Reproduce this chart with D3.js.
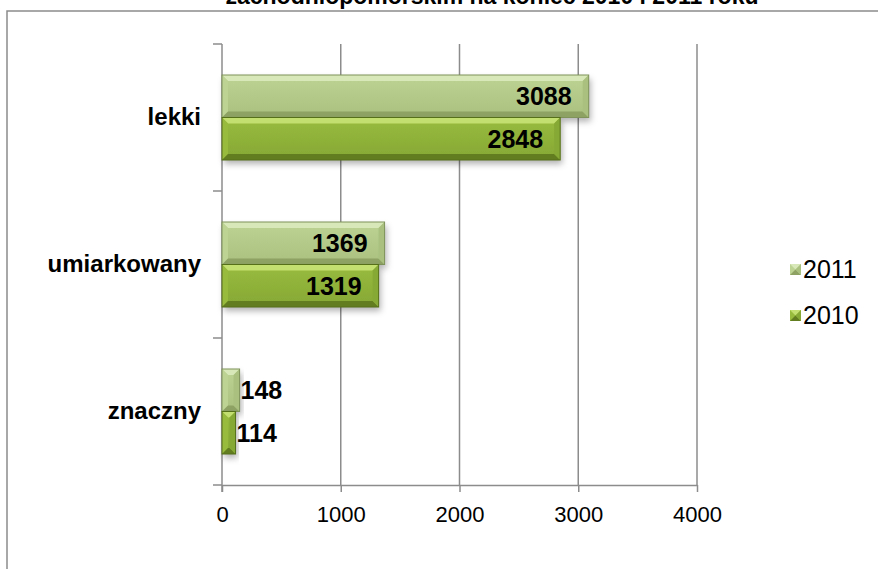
<!DOCTYPE html>
<html>
<head>
<meta charset="utf-8">
<script src="https://cdn.jsdelivr.net/npm/d3@7"></script>
<style>
  body { margin: 0; background: #fff; }
  svg { display: block; font-family: "Liberation Sans", Arial, sans-serif; }
</style>
</head>
<body>
<svg width="878" height="569"></svg>
<script>
var categories = ["lekki", "umiarkowany", "znaczny"];
var seriesNames = ["2011", "2010"];
var values2011 = [3088, 1369, 148];
var values2010 = [2848, 1319, 114];
var xTicks = [0, 1000, 2000, 3000, 4000];

var svg = d3.select("svg");

var plotLeft = 222, plotRight = 697, plotTop = 44, plotBottom = 485;

var scaleX = d3.scaleLinear().domain([0, 4000]).range([plotLeft, plotRight]);
var scaleY = d3.scaleBand().domain(categories).range([plotTop, plotBottom]);
var scaleSeries = d3.scaleBand().domain(seriesNames).range([31, 116]);

var colours = {
  "2011": { top: "#d9e8b8", mid: "#bcd394", low: "#a9c07e", bevelLo: "#8ea264", edge: "#7f935a" },
  "2010": { top: "#c3df70", mid: "#98bb3e", low: "#86a835", bevelLo: "#617d1f", edge: "#56701a" }
};

var defs = svg.append("defs");
seriesNames.forEach(function(s) {
  var g = defs.append("linearGradient").attr("id", "g" + s)
      .attr("x1", 0).attr("y1", 0).attr("x2", 0).attr("y2", 1);
  g.append("stop").attr("offset", "0%").attr("stop-color", colours[s].mid);
  g.append("stop").attr("offset", "100%").attr("stop-color", colours[s].low);
});
var f = defs.append("filter").attr("id", "shadow")
    .attr("x", "-10%").attr("y", "-20%").attr("width", "130%").attr("height", "160%");
f.append("feDropShadow").attr("dx", 2).attr("dy", 4).attr("stdDeviation", 3)
    .attr("flood-color", "#000").attr("flood-opacity", 0.3);

// frame
svg.append("path")
   .attr("d", "M7,569 L7,11 L878,11")
   .attr("fill", "none").attr("stroke", "#8c8c8c").attr("stroke-width", 1.5);

// title (top line is cut off)
svg.append("text")
   .attr("x", 492).attr("y", 4)
   .attr("text-anchor", "middle")
   .attr("font-size", 23).attr("font-weight", "bold")
   .text("zachodniopomorskim na koniec 2010 i 2011 roku");

// gridlines
svg.selectAll("line.grid")
   .data(xTicks.slice(1))
   .enter().append("line")
   .attr("x1", function(d) { return scaleX(d); })
   .attr("x2", function(d) { return scaleX(d); })
   .attr("y1", plotTop).attr("y2", plotBottom)
   .attr("stroke", "#8c8c8c").attr("stroke-width", 1.5);

// x axis
var axisX = svg.append("g").attr("transform", "translate(0," + plotBottom + ")")
   .call(d3.axisBottom(scaleX).tickValues(xTicks).tickFormat(d3.format("d"))
         .tickSize(7).tickPadding(14).tickSizeOuter(0));
axisX.select(".domain").attr("stroke", "#8c8c8c").attr("stroke-width", 1.5);
axisX.selectAll(".tick line").attr("stroke", "#8c8c8c").attr("stroke-width", 1.5);
axisX.selectAll("text").attr("font-size", 22).attr("fill", "#000")
     .attr("font-family", "Liberation Sans, Arial, sans-serif");

// y axis
var axisY = svg.append("g").attr("transform", "translate(" + plotLeft + ",0)")
   .call(d3.axisLeft(scaleY).tickSize(0).tickPadding(21));
axisY.select(".domain").attr("d", "M0," + plotTop + "V" + (plotBottom + 7))
     .attr("stroke", "#8c8c8c").attr("stroke-width", 1.5);
axisY.selectAll("text").attr("font-size", 24).attr("font-weight", "bold").attr("fill", "#000")
     .attr("font-family", "Liberation Sans, Arial, sans-serif");
var catEdges = [plotTop].concat(categories.map(function(c) { return scaleY(c) + scaleY.bandwidth(); }));
axisY.selectAll("line.ctick")
   .data(catEdges)
   .enter().append("line")
   .attr("x1", -9).attr("x2", 0)
   .attr("y1", function(d) { return d; }).attr("y2", function(d) { return d; })
   .attr("stroke", "#8c8c8c").attr("stroke-width", 1.5);

// bars
var rows = [];
categories.forEach(function(c, i) {
  rows.push({ cat: c, s: "2011", v: values2011[i] });
  rows.push({ cat: c, s: "2010", v: values2010[i] });
});

var bar = svg.selectAll("g.bar")
   .data(rows)
   .enter().append("g")
   .attr("transform", function(d) {
     return "translate(" + plotLeft + "," + (scaleY(d.cat) + scaleSeries(d.s)) + ")";
   });

bar.each(function(d) {
  var g = d3.select(this);
  var w = scaleX(d.v) - plotLeft;
  var h = scaleSeries.bandwidth();
  var b = Math.min(6, w / 2);
  var c = colours[d.s];
  g.append("rect").attr("width", w).attr("height", h)
   .attr("fill", "url(#g" + d.s + ")").attr("filter", "url(#shadow)");
  // top bevel
  g.append("path").attr("d", "M0,0 H" + w + " L" + (w - b) + "," + b + " H" + b + " Z")
   .attr("fill", c.top);
  // left bevel
  g.append("path").attr("d", "M0,0 L" + b + "," + b + " V" + (h - b) + " L0," + h + " Z")
   .attr("fill", c.mid);
  // bottom bevel
  g.append("path").attr("d", "M0," + h + " H" + w + " L" + (w - b) + "," + (h - b) + " H" + b + " Z")
   .attr("fill", c.bevelLo);
  // right bevel
  g.append("path").attr("d", "M" + w + ",0 V" + h + " L" + (w - b) + "," + (h - b) + " V" + b + " Z")
   .attr("fill", c.low);
  g.append("rect").attr("width", w).attr("height", h)
   .attr("fill", "none").attr("stroke", c.edge).attr("stroke-width", 1);
  var inside = w > 80;
  g.append("text")
   .attr("x", inside ? w - 17 : w + 1)
   .attr("y", h / 2 + 9)
   .attr("text-anchor", inside ? "end" : "start")
   .attr("font-size", 25).attr("font-weight", "bold").attr("fill", "#000")
   .text(d.v);
});

// legend
var legend = svg.selectAll("g.legend")
   .data(seriesNames)
   .enter().append("g")
   .attr("transform", function(d, i) { return "translate(790," + (264 + i * 46) + ")"; });
legend.each(function(s) {
  var g = d3.select(this);
  var c = colours[s];
  g.append("rect").attr("width", 11).attr("height", 11).attr("fill", c.mid);
  g.append("path").attr("d", "M0,0 H11 L5.5,5.5 Z").attr("fill", c.top);
  g.append("path").attr("d", "M0,11 H11 L5.5,5.5 Z").attr("fill", c.bevelLo);
  g.append("path").attr("d", "M11,0 V11 L5.5,5.5 Z").attr("fill", c.low);
});
legend.append("text")
   .attr("x", 13).attr("y", 14)
   .attr("font-size", 25).attr("fill", "#000")
   .text(function(d) { return d; });
</script>
</body>
</html>
